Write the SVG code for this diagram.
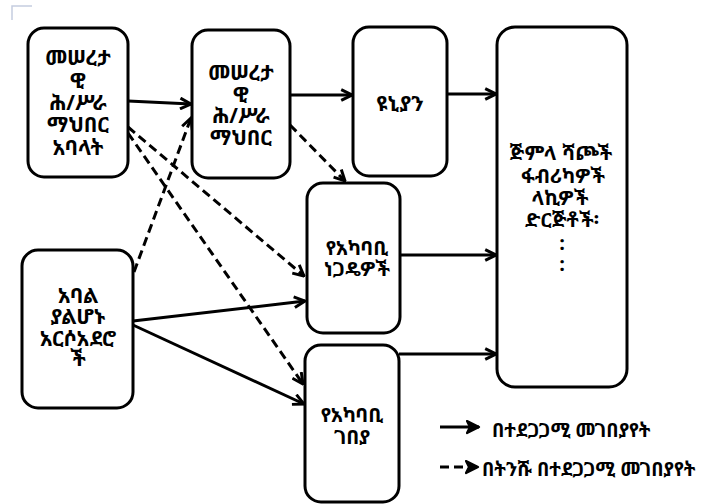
<svg xmlns="http://www.w3.org/2000/svg" width="718" height="504" viewBox="0 0 718 504">
<style>
.box{fill:#fff;stroke:#000;stroke-width:3}
.t{font-family:"Noto Sans Ethiopic","Abyssinica SIL","DejaVu Sans","Noto Sans",sans-serif;font-size:20px;font-weight:bold;fill:#000;text-anchor:middle}
.big{font-size:21px}
.lt{font-family:"Noto Sans Ethiopic","Abyssinica SIL","DejaVu Sans","Noto Sans",sans-serif;font-size:19px;font-weight:bold;fill:#000}
.s{stroke:#000;stroke-width:3;fill:none}
.d{stroke:#000;stroke-width:3;fill:none;stroke-dasharray:9,5}
</style>
<defs>
<marker id="ah" viewBox="0 0 10 10" refX="9" refY="5" markerWidth="4.5" markerHeight="4.5" orient="auto" markerUnits="strokeWidth">
<path d="M1,1 L9,5 L1,9" fill="none" stroke="#000" stroke-width="2.2"/>
</marker>
<marker id="ahl" viewBox="0 0 10 10" refX="9" refY="5" markerWidth="5" markerHeight="5" orient="auto" markerUnits="strokeWidth">
<path d="M1,1 L9,5 L1,9 L3,5 Z" fill="#000" stroke="#000" stroke-width="1.5" stroke-linejoin="round"/>
</marker>
</defs>
<path d="M12,20 V6 H32" fill="none" stroke="#c5cde0" stroke-width="1.5"/>
<g id="connectors">
<line class="s" x1="128" y1="101" x2="191" y2="104" marker-end="url(#ah)"/>
<line class="s" x1="290" y1="95" x2="352" y2="95" marker-end="url(#ah)"/>
<line class="s" x1="447" y1="94" x2="496" y2="94" marker-end="url(#ah)"/>
<line class="s" x1="400" y1="255" x2="496" y2="255" marker-end="url(#ah)"/>
<line class="s" x1="399" y1="354" x2="496" y2="354" marker-end="url(#ah)"/>
<line class="s" x1="133" y1="321" x2="305" y2="301" marker-end="url(#ah)"/>
<line class="s" x1="133" y1="325" x2="304" y2="404" marker-end="url(#ah)"/>
<line class="d" x1="128" y1="127" x2="304" y2="276" marker-end="url(#ah)"/>
<line class="d" x1="128" y1="133" x2="303" y2="384" marker-end="url(#ah)"/>
<line class="d" x1="134" y1="272" x2="191" y2="118" marker-end="url(#ah)"/>
<line class="d" x1="290" y1="125" x2="345" y2="181" marker-end="url(#ah)"/>
<line class="s" x1="440" y1="427" x2="479" y2="427" marker-end="url(#ahl)"/>
<line class="d" x1="440" y1="467" x2="478" y2="467" stroke-dasharray="8,4" marker-end="url(#ahl)"/>
</g>
<g id="nodeA">
<rect class="box" x="28" y="28" width="100" height="149" rx="16"/>
<text class="t big" x="78" y="65">መሠረታ</text>
<text class="t big" x="78" y="88">ዊ</text>
<text class="t big" x="78" y="110">ሕ/ሥራ</text>
<text class="t big" x="78" y="132">ማህበር</text>
<text class="t big" x="78" y="155">አባላት</text>
</g>
<g id="nodeB">
<rect class="box" x="192" y="30" width="98" height="148" rx="16"/>
<text class="t big" x="241" y="80">መሠረታ</text>
<text class="t big" x="241" y="102">ዊ</text>
<text class="t big" x="241" y="123">ሕ/ሥራ</text>
<text class="t big" x="241" y="145">ማህበር</text>
</g>
<g id="nodeC">
<rect class="box" x="353" y="27" width="94" height="149" rx="16"/>
<text class="t big" x="400" y="111">ዩኒያን</text>
</g>
<g id="nodeD">
<rect class="box" x="497" y="27" width="130" height="360" rx="18"/>
<text class="t" x="561" y="160">ጅምላ ሻጮች</text>
<text class="t" x="563" y="183">ፋብሪካዎች</text>
<text class="t" x="560" y="205">ላኪዎች</text>
<text class="t" x="562" y="227">ድርጅቶች፡</text>
<text class="t" x="562" y="250">:</text>
<text class="t" x="562" y="271">:</text>
</g>
<g id="nodeE">
<rect class="box" x="22" y="250" width="111" height="158" rx="16"/>
<text class="t big" x="78" y="303">አባል</text>
<text class="t big" x="78" y="324">ያልሆኑ</text>
<text class="t big" x="78" y="346">አርሶአደሮ</text>
<text class="t big" x="78" y="366">ች</text>
</g>
<g id="nodeF">
<rect class="box" x="307" y="183" width="93" height="150" rx="16"/>
<text class="t" x="357" y="255">የአካባቢ</text>
<text class="t" x="357" y="276">ነጋዴዎች</text>
</g>
<g id="nodeG">
<rect class="box" x="305" y="345" width="94" height="157" rx="16"/>
<text class="t" x="352" y="422">የአካባቢ</text>
<text class="t" x="352" y="444">ገበያ</text>
</g>
<g id="legend">
<text class="lt" x="492" y="437">በተደጋጋሚ መገበያየት</text>
<text class="lt" x="482" y="476">በትንሹ በተደጋጋሚ መገበያየት</text>
</g>
</svg>
